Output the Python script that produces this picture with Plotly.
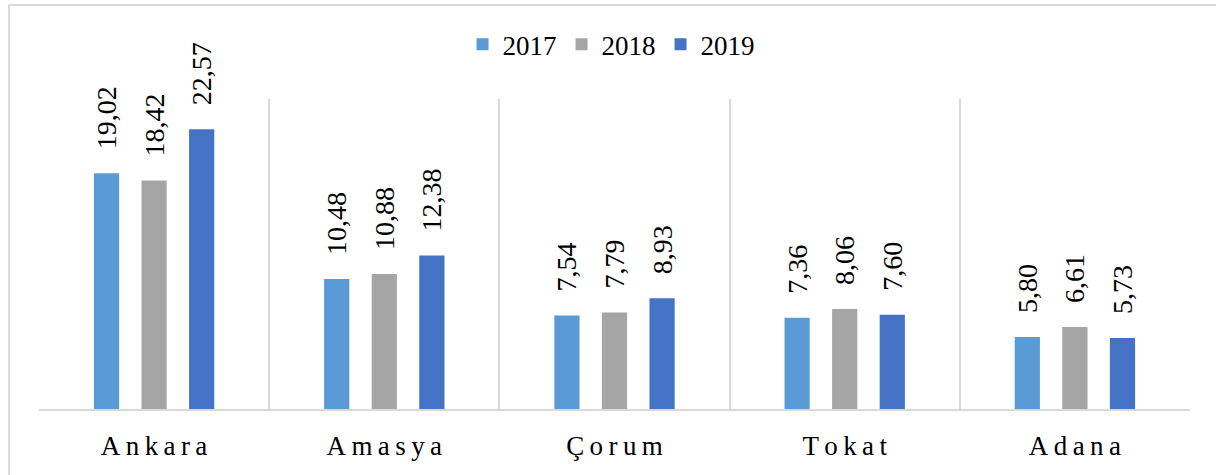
import plotly.graph_objects as go

categories = ["Ankara", "Amasya", "Çorum", "Tokat", "Adana"]
series_names = ["2017", "2018", "2019"]
values_2017 = [19.02, 10.48, 7.54, 7.36, 5.80]
values_2018 = [18.42, 10.88, 7.79, 8.06, 6.61]
values_2019 = [22.57, 12.38, 8.93, 7.60, 5.73]
colors = ["#5B9BD5", "#A5A5A5", "#4472C4"]

FONT = "'Liberation Serif', 'Times New Roman', 'DejaVu Serif', serif"
NBSP = "\u00a0"
THIN = "\u2009"

def fmt(v):
    return NBSP * 3 + f"{v:.2f}".replace(".", ",")

fig = go.Figure()
for name, vals, col in zip(series_names, [values_2017, values_2018, values_2019], colors):
    fig.add_trace(go.Bar(
        name=name, x=categories, y=vals, marker=dict(color=col, line=dict(width=0)),
        text=[fmt(v) for v in vals], textposition="outside", textangle=-90,
        constraintext="none", cliponaxis=False,
        textfont=dict(family=FONT, size=28, color="#000000"),
    ))

ticktext = [THIN.join(list(c)) for c in categories]

fig.update_layout(
    width=1216, height=475,
    margin=dict(l=39, r=26, t=99, b=66),
    paper_bgcolor="white", plot_bgcolor="white",
    barmode="group", bargap=0.38, bargroupgap=0.47,
    font=dict(family=FONT, color="#000000"),
    showlegend=True,
    legend=dict(orientation="h", x=0.497, xanchor="center", y=1.175, yanchor="middle",
                font=dict(family=FONT, size=27), traceorder="normal", itemwidth=30),
    xaxis=dict(type="category", tickson="boundaries", showgrid=True, gridcolor="#D9D9D9",
               gridwidth=1.5, showline=True, linecolor="#D9D9D9", linewidth=1.5,
               ticks="", tickvals=categories, ticktext=ticktext,
               tickfont=dict(family=FONT, size=27), ticklabelstandoff=12),
    yaxis=dict(range=[0, 25], showgrid=False, showticklabels=False, zeroline=False,
               showline=False),
    shapes=[dict(type="rect", xref="paper", yref="paper", x0=-0.026, x1=1.03,
                 y0=-0.23, y1=1.303, line=dict(color="#D9D9D9", width=2),
                 fillcolor="rgba(0,0,0,0)", layer="below")],
)

fig.write_html("out.html", config={"displayModeBar": False},
               post_script="document.body.style.margin='0px';")
